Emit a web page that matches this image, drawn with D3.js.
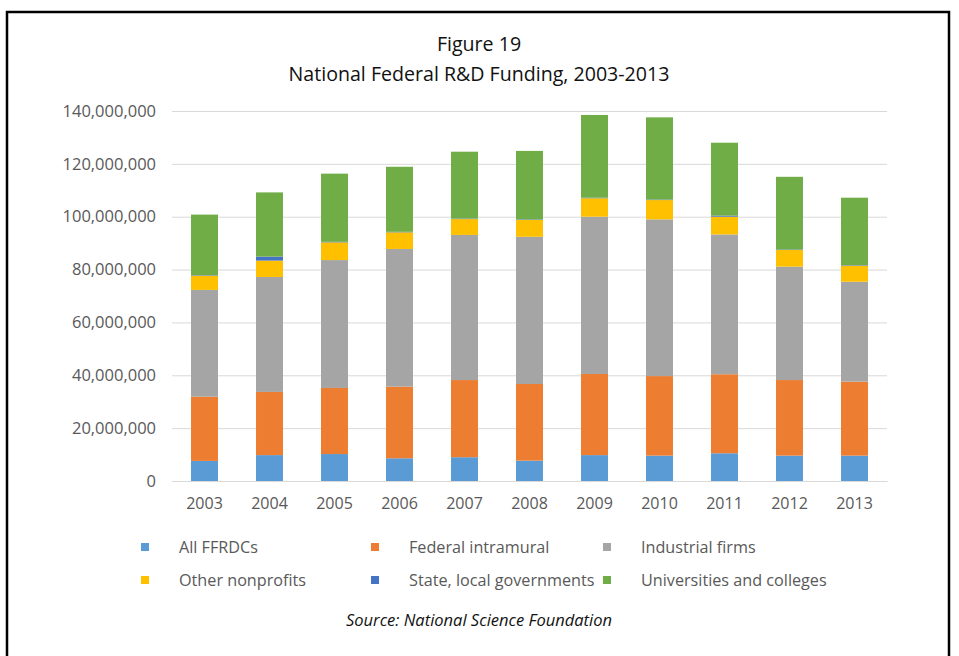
<!DOCTYPE html>
<html>
<head>
<meta charset="utf-8">
<script src="https://cdn.jsdelivr.net/npm/d3@7"></script>
<style>
  html, body { margin: 0; padding: 0; background: #fff; }
  svg { display: block; font-family: "Open Sans", "Noto Sans", sans-serif; }
</style>
</head>
<body>
<svg id="chart" width="959" height="656"></svg>
<script>
// Federal R&D funding by performer, 2003-2013 (dollars)
const years = ["2003","2004","2005","2006","2007","2008","2009","2010","2011","2012","2013"];
const seriesNames = ["All FFRDCs","Federal intramural","Industrial firms","Other nonprofits","State, local governments","Universities and colleges"];
const ffrdcs       = [7600000, 9800000, 10200000, 8600000, 9000000, 7700000, 9800000, 9600000, 10500000, 9600000, 9600000];
const intramural   = [24300000, 23900000, 25000000, 27100000, 29200000, 29000000, 30700000, 30100000, 29900000, 28600000, 28000000];
const industrial   = [40400000, 43500000, 48400000, 52100000, 54900000, 55700000, 59500000, 59300000, 52900000, 42900000, 37800000];
const nonprofits   = [5400000, 6200000, 6700000, 6300000, 6000000, 6400000, 7000000, 7300000, 6700000, 6300000, 6100000];
const stateLocal   = [200000, 1500000, 200000, 200000, 200000, 200000, 200000, 200000, 400000, 200000, 200000];
const universities = [22900000, 24300000, 25800000, 24600000, 25300000, 25900000, 31300000, 31100000, 27600000, 27500000, 25500000];
const yTicks = [0, 20000000, 40000000, 60000000, 80000000, 100000000, 120000000, 140000000];
const colors = ["#5B9BD5","#ED7D31","#A5A5A5","#FFC000","#4472C4","#70AD47"];

const seriesValues = [ffrdcs, intramural, industrial, nonprofits, stateLocal, universities];
const rows = years.map((y, i) => {
  const r = { year: y };
  seriesNames.forEach((s, k) => r[s] = seriesValues[k][i]);
  return r;
});

const svg = d3.select("#chart");

// outer frame
svg.append("rect")
  .attr("x", 7).attr("y", 12).attr("width", 942).attr("height", 700)
  .attr("fill", "none").attr("stroke", "#000").attr("stroke-width", 2.5);

// titles
svg.append("text").attr("x", 479).attr("y", 51).attr("text-anchor", "middle")
  .attr("font-size", 19.6).attr("fill", "#111").text("Figure 19");
svg.append("text").attr("x", 479).attr("y", 81).attr("text-anchor", "middle")
  .attr("font-size", 19.6).attr("fill", "#111").text("National Federal R&D Funding, 2003-2013");

const plot = { left: 172, right: 887, top: 111, bottom: 481 };

const x = d3.scaleBand().domain(years).range([plot.left, plot.right]).paddingInner(0.585).paddingOuter(0.2925);
const y = d3.scaleLinear().domain([0, 140000000]).range([plot.bottom, plot.top]);

// gridlines
const grid = svg.append("g").attr("transform", `translate(${plot.left},0)`)
  .call(d3.axisLeft(y).tickValues(yTicks).tickSize(-(plot.right - plot.left)).tickFormat(""));
grid.select(".domain").remove();
grid.selectAll(".tick line").attr("stroke", "#D9D9D9").attr("stroke-width", 1);

// y axis labels
const yAxis = svg.append("g").attr("transform", `translate(${plot.left},0)`)
  .call(d3.axisLeft(y).tickValues(yTicks).tickSize(0).tickPadding(16).tickFormat(d3.format(",")));
yAxis.select(".domain").remove();
yAxis.selectAll("text").attr("font-size", 16.5).attr("fill", "#595959")
  .attr("font-family", "'Open Sans', sans-serif");

// stacked bars
const stack = d3.stack().keys(seriesNames);
const layers = stack(rows);
svg.append("g").selectAll("g").data(layers).join("g")
  .attr("fill", (d, i) => colors[i])
  .selectAll("rect").data(d => d).join("rect")
  .attr("x", d => x(d.data.year))
  .attr("width", x.bandwidth())
  .attr("y", d => y(d[1]))
  .attr("height", d => y(d[0]) - y(d[1]));

// x axis
const xAxis = svg.append("g").attr("transform", `translate(0,${plot.bottom})`)
  .call(d3.axisBottom(x).tickSize(0).tickPadding(17));
xAxis.select(".domain").attr("stroke", "#D9D9D9");
xAxis.selectAll("text").attr("font-size", 16).attr("fill", "#595959")
  .attr("font-family", "'Open Sans', sans-serif");

// legend: three columns, two rows
const legX = [141, 371, 603];
const legY = [547, 580];
const legend = svg.append("g");
seriesNames.forEach((name, i) => {
  const col = i % 3, row = Math.floor(i / 3);
  const g = legend.append("g").attr("transform", `translate(${legX[col]},${legY[row]})`);
  g.append("rect").attr("x", 0).attr("y", -4).attr("width", 8).attr("height", 8).attr("fill", colors[i]);
  g.append("text").attr("x", 38).attr("y", 6).attr("font-size", 16.2).attr("fill", "#595959").text(name);
});

// source note
svg.append("text").attr("x", 479).attr("y", 626).attr("text-anchor", "middle")
  .attr("font-size", 16.5).attr("font-style", "italic").attr("fill", "#111")
  .text("Source: National Science Foundation");
</script>
</body>
</html>
